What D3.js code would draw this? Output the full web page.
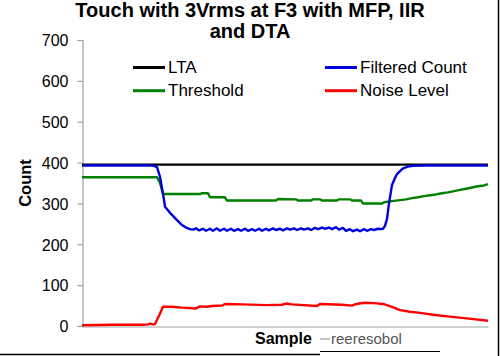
<!DOCTYPE html>
<html><head><meta charset="utf-8">
<script src="https://cdn.jsdelivr.net/npm/d3@7"></script>
<style>body{margin:0;background:#fff}svg{display:block}text{font-family:"Liberation Sans",Arial,sans-serif}</style>
</head><body>
<svg id="c" width="500" height="356"></svg>
<script>
const titleLines = ["Touch with 3Vrms at F3 with MFP, IIR", "and DTA"];
const yTicks = [0, 100, 200, 300, 400, 500, 600, 700];
const seriesNames = ["LTA", "Filtered Count", "Threshold", "Noise Level"];
const seriesColors = ["#000000", "#0000dd", "#008000", "#ff0000"];

const lta = [[0,395],[406,395]];
const filtered = [[0,393],[68,393],[72,392],[75,389],[78,365],[81,324],[83,292],[88,277],[95,259],[100,247],[104,241],[108,237],
[111,236],[114,239],[117,234],[121,238],[124,233],[128,238],[131,233],[135,239],[138,233],[142,238],[145,233],[149,238],[152,233],
[156,237],[159,233],[163,238],[166,233],[170,237],[173,233],[177,238],[180,233],[184,238],[187,234],[191,239],[194,235],[198,238],
[201,234],[205,239],[208,236],[212,239],[215,235],[219,239],[222,236],[226,239],[229,235],[233,240],[236,237],[240,241],[243,238],
[247,241],[250,237],[254,242],[257,236],[261,240],[264,233],[268,237],[271,232],[275,236],[278,232],[282,237],[285,233],[289,237],
[292,235],[296,238],[299,237],[301,238],[303,245],[305,262],[307,300],[310,345],[313,362],[315,372],[318,379],[321,386],[326,390],
[331,392],[343,393],[406,393]];
const threshold = [[0,364],[75,364],[78,350],[81,323],[118,323],[120,325],[126,325],[128,315],[143,315],[145,307],[194,307],[196,311],
[214,310],[216,307],[229,307],[231,310],[238,310],[240,307],[255,307],[257,310],[268,310],[270,307],[279,307],[281,300],[300,300],
[302,303],[308,305],[318,308],[324,310],[330,313],[336,315],[342,318],[348,320],[354,322],[360,325],[366,327],[372,330],[378,333],
[384,336],[390,339],[396,342],[402,344],[406,347]];
const noise = [[0,2],[30,3],[60,3],[66,4],[68,6],[71,4],[73,5],[77,25],[81,47],[90,47],[100,45],[114,43],[118,48],[125,47],[130,49],
[140,50],[143,54],[160,53],[185,51],[200,52],[204,55],[210,53],[235,49],[238,54],[260,52],[270,50],[273,53],[277,55],[283,57],
[292,56],[301,54],[310,47],[318,39],[328,35],[338,32],[353,27],[368,23],[387,18],[406,13]];

const svg = d3.select("#c");
const x = d3.scaleLinear().domain([0, 406]).range([82, 488]);
const y = d3.scaleLinear().domain([0, 700]).range([326, 40]);

// title
svg.append("g").selectAll("text").data(titleLines).join("text")
  .attr("x", 250).attr("y", (d,i) => 17 + i*21).attr("text-anchor","middle")
  .attr("font-size", 20).attr("font-weight","bold").text(d => d);

// y axis
const yAxis = d3.axisLeft(y).tickValues(yTicks).tickSize(5).tickPadding(9);
const ga = svg.append("g").attr("transform","translate(82.5,0)").call(yAxis);
ga.select(".domain").attr("stroke","#a0a0a0").attr("stroke-width",1.2);
ga.selectAll(".tick line").attr("stroke","#a0a0a0").attr("stroke-width",1.2);
ga.selectAll(".tick text").attr("font-size",16).attr("fill","#000").attr("font-family","Liberation Sans, Arial, sans-serif").attr("dy","0.36em");

// x axis
const xAxis = d3.axisBottom(x).tickValues([]).tickSizeOuter(0);
const gx = svg.append("g").attr("transform","translate(0,326.5)").call(xAxis);
gx.select(".domain").attr("stroke","#a0a0a0").attr("stroke-width",1.2);

// lines
const line = d3.line().x(d => x(d[0])).y(d => y(d[1]));
const seriesData = [lta, filtered, threshold, noise];
[0,2,1,3].forEach(i => {
  svg.append("path").datum(seriesData[i]).attr("d", line)
    .attr("fill","none").attr("stroke", seriesColors[i]).attr("stroke-width", 2.4)
    .attr("stroke-linejoin","round");
});

// legend
const legPos = [[133,67.5],[325,67.5],[133,90.7],[325,90.7]];
const lg = svg.append("g").selectAll("g").data(seriesNames).join("g")
  .attr("transform",(d,i)=>`translate(${legPos[i][0]},${legPos[i][1]})`);
lg.append("line").attr("x1",0).attr("x2",32).attr("y1",0).attr("y2",0)
  .attr("stroke",(d,i)=>seriesColors[i]).attr("stroke-width",3);
lg.append("text").attr("x",35).attr("y",5.5).attr("font-size",17).text(d=>d);

// axis titles
svg.append("text").attr("transform","translate(31,183) rotate(-90)").attr("text-anchor","middle")
  .attr("font-size",16.5).attr("font-weight","bold").text("Count");
svg.append("text").attr("x",255).attr("y",344).attr("font-size",16).attr("font-weight","bold").text("Sample");
svg.append("line").attr("x1",320).attr("x2",330).attr("y1",339).attr("y2",339).attr("stroke","#888").attr("stroke-width",1);
svg.append("text").attr("x",331).attr("y",344).attr("font-size",15).attr("fill","#555").text("reeresobol");

// frame
svg.append("line").attr("x1",498.5).attr("x2",498.5).attr("y1",0).attr("y2",356).attr("stroke","#000").attr("stroke-width",1.5);
svg.append("line").attr("x1",0).attr("x2",320).attr("y1",354.5).attr("y2",354.5).attr("stroke","#000").attr("stroke-width",1.5);
svg.append("line").attr("x1",320).attr("x2",440).attr("y1",351.5).attr("y2",351.5).attr("stroke","#000").attr("stroke-width",1);
</script>
</body></html>
